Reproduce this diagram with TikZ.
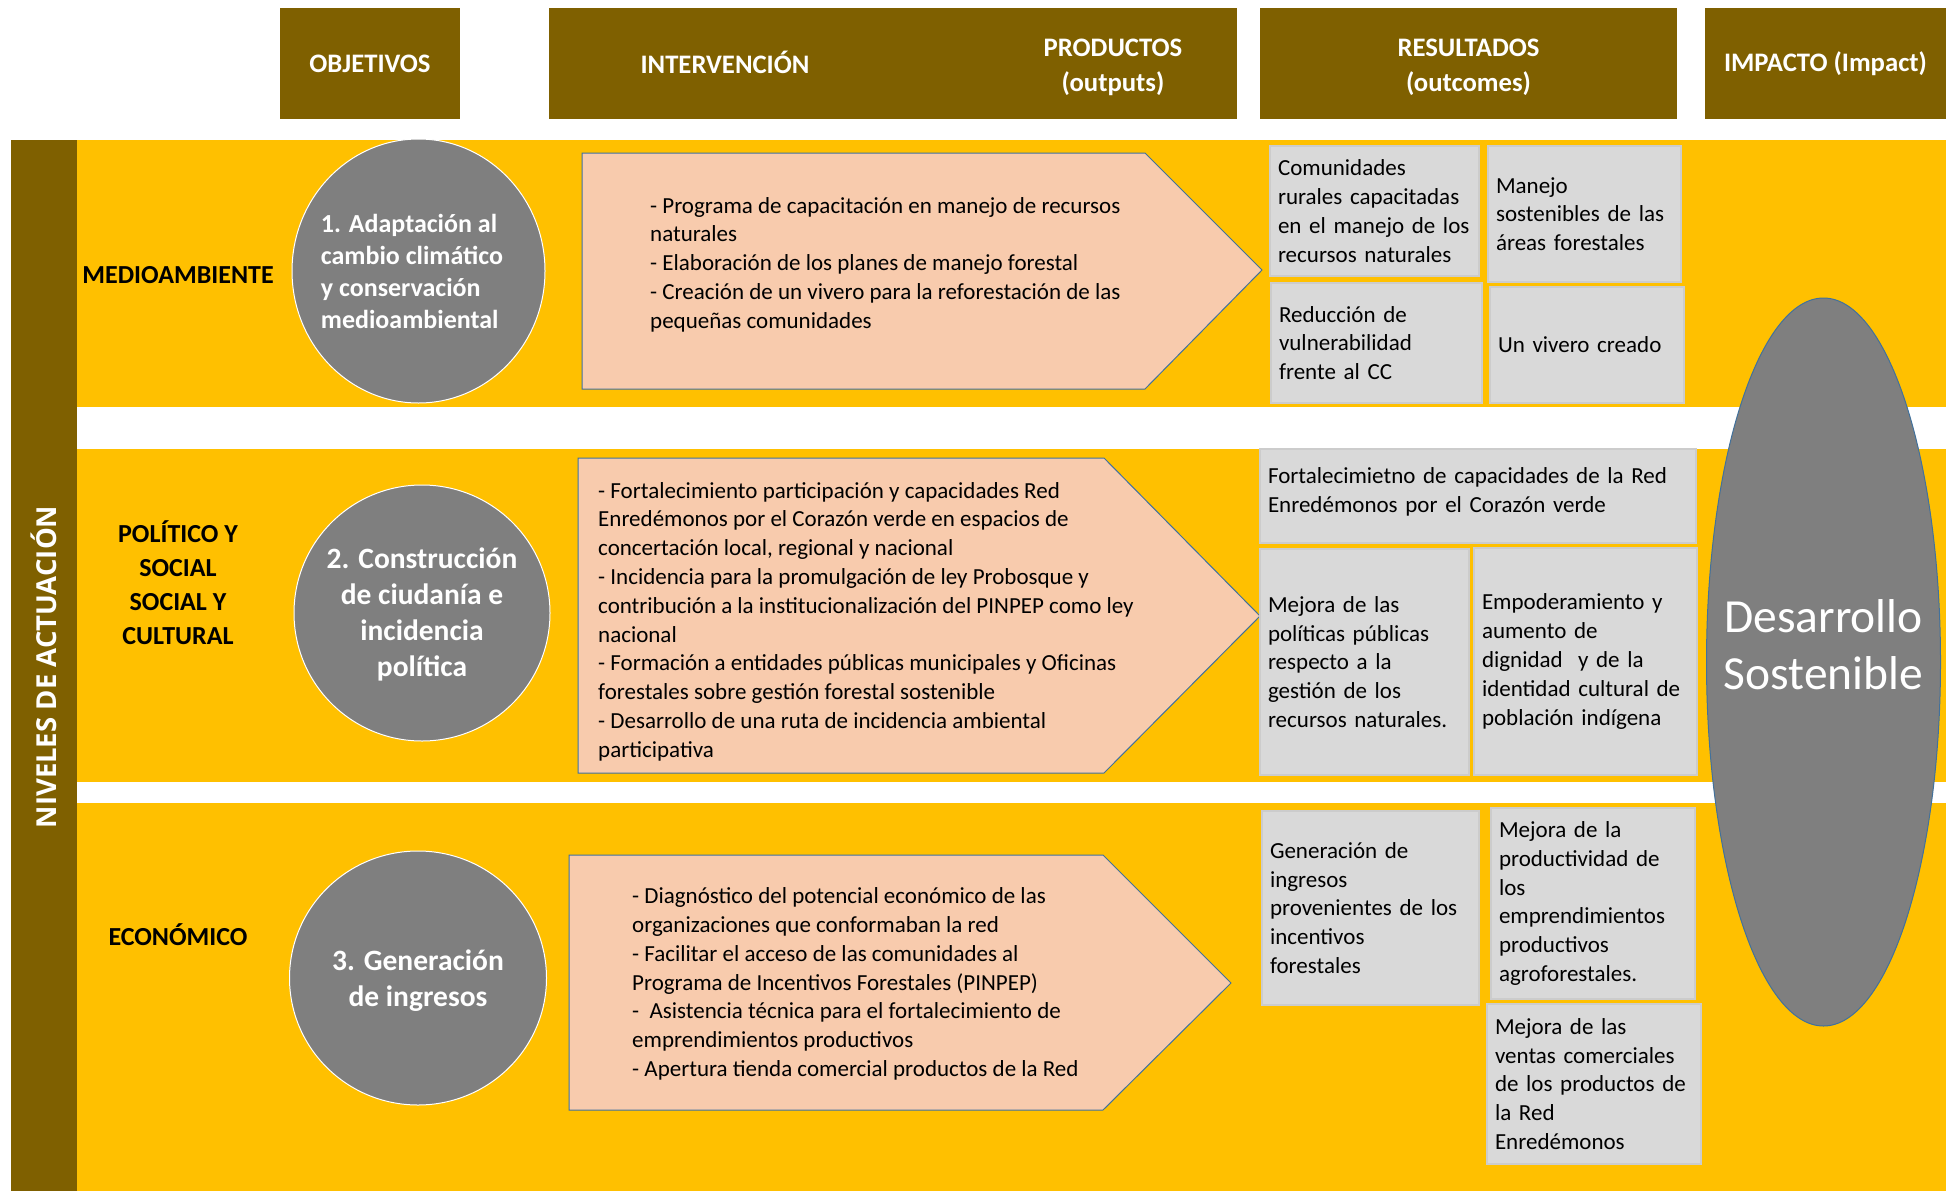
\documentclass[tikz,border=0pt]{standalone}
\usepackage{fontspec}
\setmainfont{Carlito}
\newfontfamily\barfont{Open Sans}
\usepackage{tikz}
\usetikzlibrary{shapes.geometric}

\definecolor{hdrbrown}{HTML}{7F6000}
\definecolor{bandyellow}{HTML}{FFC000}
\definecolor{actpeach}{HTML}{F8CBAD}
\definecolor{resgrey}{HTML}{D9D9D9}
\definecolor{objgrey}{HTML}{7F7F7F}
\definecolor{edgeblue}{HTML}{41719C}

\tikzset{
  hdrbox/.style={fill=hdrbrown, inner sep=0pt},
  hdrtext/.style={text=white, inner sep=0pt, align=center, font=\bfseries\fontsize{26.7}{35}\selectfont},
  levellabel/.style={inner sep=0pt, align=center, font=\bfseries\fontsize{26}{34}\selectfont},
  objcircle/.style={ellipse, fill=objgrey, draw=white, line width=1pt, text=white, inner sep=0pt},
  actarrow/.style={fill=actpeach, draw=edgeblue, line width=1pt},
  acttext/.style={anchor=west, inner sep=0pt, align=left, font=\fontsize{23}{28.8}\selectfont},
  resbox/.style={fill=resgrey, draw=black!20, line width=1.5pt, inner ysep=0pt, inner xsep=8pt, align=left, font=\fontsize{23}{28.8}\selectfont},
}

\begin{document}
\begin{tikzpicture}[x=1pt, y=-1pt]
\useasboundingbox (0,0) rectangle (1946,1191);

% column headers
\node[hdrbox, minimum width=180pt, minimum height=111pt] (objHdr) at (370,63.5) {};
\node[hdrtext] (objText) at (370,63.5) {OBJETIVOS};
\node[hdrbox, minimum width=688pt, minimum height=111pt] (intHdr) at (893,63.5) {};
\node[hdrtext] (intText) at (725,62.5) {INTERVENCIÓN};
\node[hdrtext] (prodText) at (1113,67.5) {PRODUCTOS\\(outputs)};
\node[hdrbox, minimum width=417pt, minimum height=111pt] (resHdr) at (1468.5,63.5) {};
\node[hdrtext] (resText) at (1468.5,67.5) {RESULTADOS\\(outcomes)};
\node[hdrbox, minimum width=241pt, minimum height=111pt] (impHdr) at (1825.5,63.5) {};
\node[hdrtext] (impText) at (1825.5,63.5) {IMPACTO (Impact)};

% bands and side bar
\fill[bandyellow] (76,140) rectangle (1946,407);
\fill[bandyellow] (76,449) rectangle (1946,782);
\fill[bandyellow] (76,803) rectangle (1946,1191);
\fill[hdrbrown] (11,140) rectangle (77,1191);
\node[rotate=90, text=white, inner sep=0pt, font=\barfont\bfseries\fontsize{27.5}{32}\selectfont] (niveles) at (44,667) {NIVELES DE ACTUACIÓN};

% impact
\node[ellipse, fill=objgrey, draw=edgeblue, line width=1pt, minimum width=234pt, minimum height=728pt] (impEllipse) at (1823.5,662) {};
\node[text=white, inner sep=0pt, align=center, font=\fontsize{47.5}{57}\selectfont] (impLabel) at (1823.5,645) {Desarrollo\\Sostenible};

% level labels
\node[levellabel] (lvlEnv) at (178,275) {MEDIOAMBIENTE};
\node[levellabel] (lvlPol) at (178,583) {POLÍTICO Y\\SOCIAL\\SOCIAL Y\\CULTURAL};
\node[levellabel] (lvlEco) at (178,935) {ECONÓMICO};

% objectives
\node[objcircle, minimum width=253pt, minimum height=264pt] (objOne) at (418.5,271) {};
\node[text=white, inner sep=0pt, align=left, font=\bfseries\fontsize{26}{32}\selectfont] (objOneText) at (412,271) {1. Adaptación al\\cambio climático\\y conservación\\medioambiental};
\node[objcircle, minimum width=256pt, minimum height=256pt] (objTwo) at (422,613) {};
\node[text=white, inner sep=0pt, align=center, font=\bfseries\fontsize{29.5}{36}\selectfont] (objTwoText) at (422,614) {2. Construcción\\de ciudanía e\\incidencia\\política};
\node[objcircle, minimum width=257pt, minimum height=254pt, align=center, font=\bfseries\fontsize{29.5}{36}\selectfont] (objThree) at (418,978) {\\[-10pt]3. Generación\\de ingresos};

% interventions / products
\draw[actarrow] (582,153) -- (1145,153) -- (1262,270) -- (1145,389) -- (582,389) -- cycle;
\node[acttext] (actOne) at (650,264.5) {- Programa de capacitación en manejo de recursos\\naturales\\- Elaboración de los planes de manejo forestal\\- Creación de un vivero para la reforestación de las\\pequeñas comunidades};
\draw[actarrow] (578,458) -- (1104,458) -- (1260,616) -- (1104,773) -- (578,773) -- cycle;
\node[acttext] (actTwo) at (598,621.5) {- Fortalecimiento participación y capacidades Red\\Enredémonos por el Corazón verde en espacios de\\concertación local, regional y nacional\\- Incidencia para la promulgación de ley Probosque y\\contribución a la institucionalización del PINPEP como ley\\nacional\\- Formación a entidades públicas municipales y Oficinas\\forestales sobre gestión forestal sostenible\\- Desarrollo de una ruta de incidencia ambiental\\participativa};
\draw[actarrow] (569,855) -- (1103,855) -- (1231,983) -- (1103,1110) -- (569,1110) -- cycle;
\node[acttext] (actThree) at (632,984) {- Diagnóstico del potencial económico de las\\organizaciones que conformaban la red\\- Facilitar el acceso de las comunidades al\\Programa de Incentivos Forestales (PINPEP)\\-~ Asistencia técnica para el fortalecimiento de\\emprendimientos productivos\\- Apertura tienda comercial productos de la Red};

% outcomes
\node[resbox, minimum width=209pt, minimum height=130pt, text width=193pt] (resEnvA) at (1374.5,211) {Comunidades\\rurales capacitadas\\en el manejo de los\\recursos naturales};
\node[resbox, minimum width=193pt, minimum height=136pt, text width=177pt] (resEnvB) at (1584.5,214) {Manejo\\sostenibles de las\\áreas forestales};
\node[resbox, minimum width=211pt, minimum height=120pt, text width=195pt] (resEnvC) at (1376.5,343) {Reducción de\\vulnerabilidad\\frente al CC};
\node[resbox, minimum width=194pt, minimum height=116pt, text width=178pt] (resEnvD) at (1587,345) {Un vivero creado};
\node[resbox, minimum width=436pt, minimum height=94pt, text width=420pt] (resPolA) at (1478,496) {Fortalecimietno de capacidades de la Red\\Enredémonos por el Corazón verde\\[-17pt]\mbox{}};
\node[resbox, minimum width=209pt, minimum height=226pt, text width=193pt] (resPolB) at (1364.5,662) {Mejora de las\\políticas públicas\\respecto a la\\gestión de los\\recursos naturales.};
\node[resbox, minimum width=223pt, minimum height=227pt, text width=207pt] (resPolC) at (1585.5,661.5) {Empoderamiento y\\aumento de\\dignidad~ y de la\\identidad cultural de\\población indígena};
\node[resbox, minimum width=217pt, minimum height=194pt, text width=201pt] (resEcoA) at (1370.5,908) {Generación de\\ingresos\\provenientes de los\\incentivos\\forestales};
\node[resbox, minimum width=204pt, minimum height=191pt, text width=188pt] (resEcoB) at (1593,903.5) {Mejora de la\\productividad de\\los\\emprendimientos\\productivos\\agroforestales.};
\node[resbox, minimum width=214pt, minimum height=160pt, text width=198pt] (resEcoC) at (1594,1084) {Mejora de las\\ventas comerciales\\de los productos de\\la Red\\Enredémonos};
\end{tikzpicture}
\end{document}
